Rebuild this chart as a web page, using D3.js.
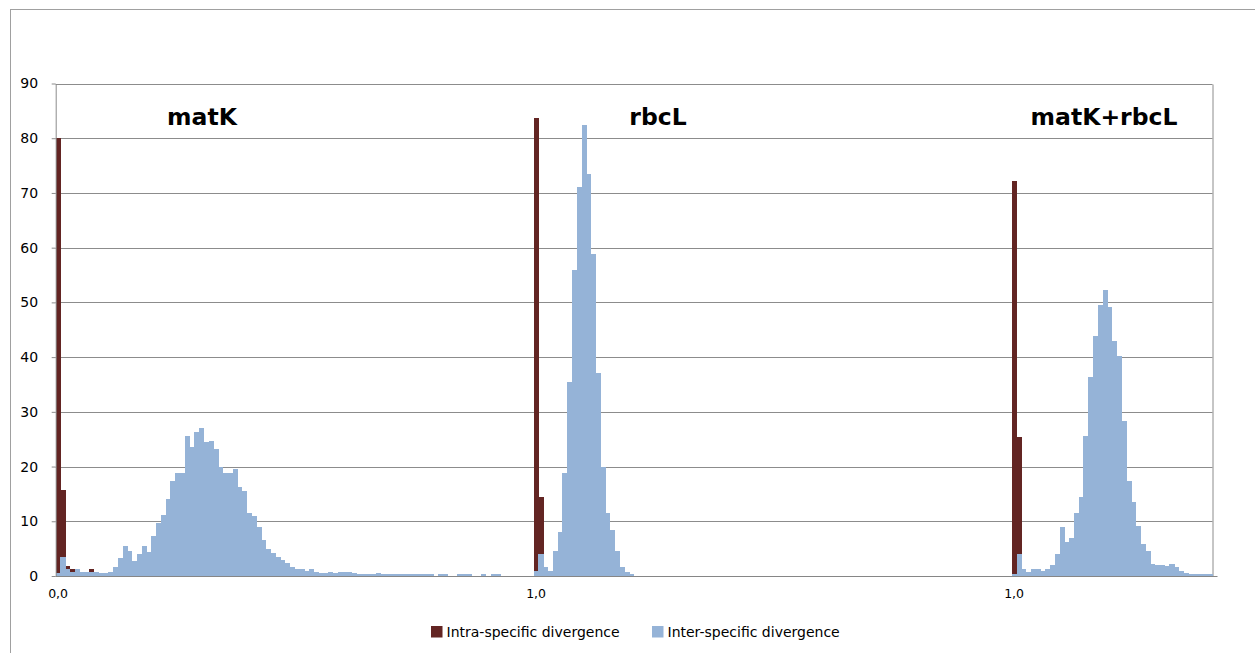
<!DOCTYPE html>
<html>
<head>
<meta charset="utf-8">
<script src="https://cdn.jsdelivr.net/npm/d3@7"></script>
<style>
  html, body { margin: 0; padding: 0; background: #fff; }
  svg { display: block; }
  text { font-family: "DejaVu Sans", sans-serif; fill: #000; }
</style>
</head>
<body>
<svg id="chart" width="1255" height="653"></svg>
<script>
// ---- data ----
const seriesNames = ["Intra-specific divergence", "Inter-specific divergence"];
const seriesColors = ["#632523", "#95b3d7"];

const intra = [
  80.0,15.7,1.8,1.3,0,0,0,1.3,0,0,
  0,0,0,0,0,0,0,0,0,0,
  0,0,0,0,0,0,0,0,0,0,
  0,0,0,0,0,0,0,0,0,0,
  0,0,0,0,0,0,0,0,0,0,
  0,0,0,0,0,0,0,0,0,0,
  0,0,0,0,0,0,0,0,0,0,
  0,0,0,0,0,0,0,0,0,0,
  0,0,0,0,0,0,0,0,0,0,
  0,0,0,0,0,0,0,0,0,0,
  83.7,14.5,0,0,0,0,0,0,0,0,
  0,0,0,0,0,0,0,0,0,0,
  0,0,0,0,0,0,0,0,0,0,
  0,0,0,0,0,0,0,0,0,0,
  0,0,0,0,0,0,0,0,0,0,
  0,0,0,0,0,0,0,0,0,0,
  0,0,0,0,0,0,0,0,0,0,
  0,0,0,0,0,0,0,0,0,0,
  0,0,0,0,0,0,0,0,0,0,
  0,0,0,0,0,0,0,0,0,0,
  72.2,25.4,0,0,0,0,0,0,0,0,
  0,0,0,0,0,0,0,0,0,0,
  0,0,0,0,0,0,0,0,0,0,
  0,0,0,0,0,0,0,0,0,0,
  0,0
];

const inter = [
  0.5,3.5,1.3,0.8,1.3,0.8,0.8,0.8,0.8,0.5,
  0.5,0.8,1.7,3.2,5.5,4.6,2.7,4.1,5.4,4.4,
  7.3,9.6,11.2,14.0,17.4,18.9,18.9,25.6,23.5,26.3,
  27.0,24.4,24.7,23.2,19.9,18.9,18.9,19.5,16.2,15.5,
  11.6,11.0,9.0,6.6,4.9,4.2,3.4,3.0,2.4,1.7,
  1.2,1.2,1.0,1.2,0.8,0.5,0.5,0.7,0.5,0.7,
  0.7,0.7,0.5,0.3,0.3,0.3,0.3,0.55,0.3,0.3,
  0.3,0.3,0.3,0.3,0.3,0.3,0.3,0.3,0.3,0,
  0.3,0.3,0,0,0.3,0.3,0.3,0,0,0.3,
  0,0.3,0.3,0,0,0,0,0,0,0,
  1.0,4.1,1.7,1.0,4.5,8.0,18.9,35.4,56.0,71.1,
  82.5,73.5,58.8,37.1,20.0,11.5,8.4,4.6,1.6,0.8,
  0.4,0,0,0,0,0,0,0,0,0,
  0,0,0,0,0,0,0,0,0,0,
  0,0,0,0,0,0,0,0,0,0,
  0,0,0,0,0,0,0,0,0,0,
  0,0,0,0,0,0,0,0,0,0,
  0,0,0,0,0,0,0,0,0,0,
  0,0,0,0,0,0,0,0,0,0,
  0,0,0,0,0,0,0,0,0,0,
  0.3,4.1,1.2,0.8,1.2,1.2,0.9,1.2,2.0,4.1,
  9.0,6.3,7.0,11.6,14.5,25.5,36.3,43.8,49.6,52.2,
  49.1,43.0,40.2,28.4,17.3,13.6,9.1,5.9,4.5,2.2,
  2.0,2.0,1.8,2.2,1.7,1.0,0.6,0.3,0.3,0.3,
  0.3,0.3
];

const categories = inter.map((_, i) => i);
const xTickIndex = [0, 100, 200];
const xTickLabels = ["0,0", "1,0", "1,0"];
const yTicks = [0, 10, 20, 30, 40, 50, 60, 70, 80, 90];

const panelTitles = ["matK", "rbcL", "matK+rbcL"];
const panelTitleX = [202, 658, 1104];

// ---- layout ----
const svg = d3.select("#chart");
const pLeft = 55.7, pRight = 1212.5, pTop = 83.5, pBottom = 576;

const x = d3.scaleBand().domain(categories).range([pLeft, pRight]).padding(0);
const y = d3.scaleLinear().domain([0, 90]).range([pBottom, pTop]);

// outer chart border
svg.append("rect")
  .attr("x", 10.5).attr("y", 9.5)
  .attr("width", 1400).attr("height", 800)
  .attr("fill", "none").attr("stroke", "#a0a0a0").attr("stroke-width", 1);

// gridlines
svg.append("g").selectAll("line")
  .data(yTicks.filter(d => d > 0))
  .join("line")
  .attr("x1", pLeft).attr("x2", pRight)
  .attr("y1", d => Math.round(y(d)) + 0.5).attr("y2", d => Math.round(y(d)) + 0.5)
  .attr("stroke", "#8c8c8c").attr("stroke-width", 1);

// right plot frame
svg.append("line")
  .attr("x1", pRight + 0.5).attr("x2", pRight + 0.5)
  .attr("y1", Math.round(y(90)) + 0.5).attr("y2", pBottom)
  .attr("stroke", "#8c8c8c");

// bars: intra then inter on top (100% overlap)
const bars = svg.append("g").attr("shape-rendering", "crispEdges");
bars.selectAll("rect.intra")
  .data(intra.map((v, i) => ({ i, v })).filter(d => d.v > 0))
  .join("rect")
  .attr("class", "intra")
  .attr("x", d => x(d.i)).attr("width", x.bandwidth() + 0.3)
  .attr("y", d => y(d.v)).attr("height", d => y(0) - y(d.v))
  .attr("fill", seriesColors[0]);

bars.selectAll("rect.inter")
  .data(inter.map((v, i) => ({ i, v })).filter(d => d.v > 0))
  .join("rect")
  .attr("class", "inter")
  .attr("x", d => x(d.i)).attr("width", x.bandwidth() + 0.3)
  .attr("y", d => y(d.v)).attr("height", d => y(0) - y(d.v))
  .attr("fill", seriesColors[1]);

// y axis
const yAxis = svg.append("g")
  .attr("transform", `translate(${pLeft},0)`)
  .call(d3.axisLeft(y).tickValues(yTicks).tickSize(4).tickSizeOuter(0).tickFormat(d3.format("d")));
yAxis.select(".domain").attr("stroke", "#8c8c8c");
yAxis.selectAll(".tick line").attr("stroke", "#8c8c8c");
yAxis.selectAll(".tick text")
  .attr("x", -17.5)
  .style("font-family", "DejaVu Sans")
  .style("font-size", "14px");

// x axis line
svg.append("line")
  .attr("x1", pLeft).attr("x2", pRight + 5)
  .attr("y1", pBottom + 0.5).attr("y2", pBottom + 0.5)
  .attr("stroke", "#868686").attr("stroke-width", 1.2);

// x tick labels
svg.append("g").selectAll("text")
  .data(xTickIndex)
  .join("text")
  .attr("x", d => x(d) + x.bandwidth() / 2)
  .attr("y", 598)
  .attr("text-anchor", "middle")
  .style("font-size", "12.5px")
  .text((d, i) => xTickLabels[i]);

// panel titles
svg.append("g").selectAll("text")
  .data(panelTitles)
  .join("text")
  .attr("x", (d, i) => panelTitleX[i])
  .attr("y", 125)
  .attr("text-anchor", "middle")
  .style("font-size", "23.5px")
  .style("font-weight", "bold")
  .text(d => d);

// legend
const legendX = [431, 652];
const lg = svg.append("g");
seriesNames.forEach((name, i) => {
  lg.append("rect")
    .attr("x", legendX[i]).attr("y", 626)
    .attr("width", 11.5).attr("height", 11.5)
    .attr("fill", seriesColors[i]);
  lg.append("text")
    .attr("x", legendX[i] + 15.5).attr("y", 637)
    .style("font-size", "14px")
    .text(name);
});
</script>
</body>
</html>
